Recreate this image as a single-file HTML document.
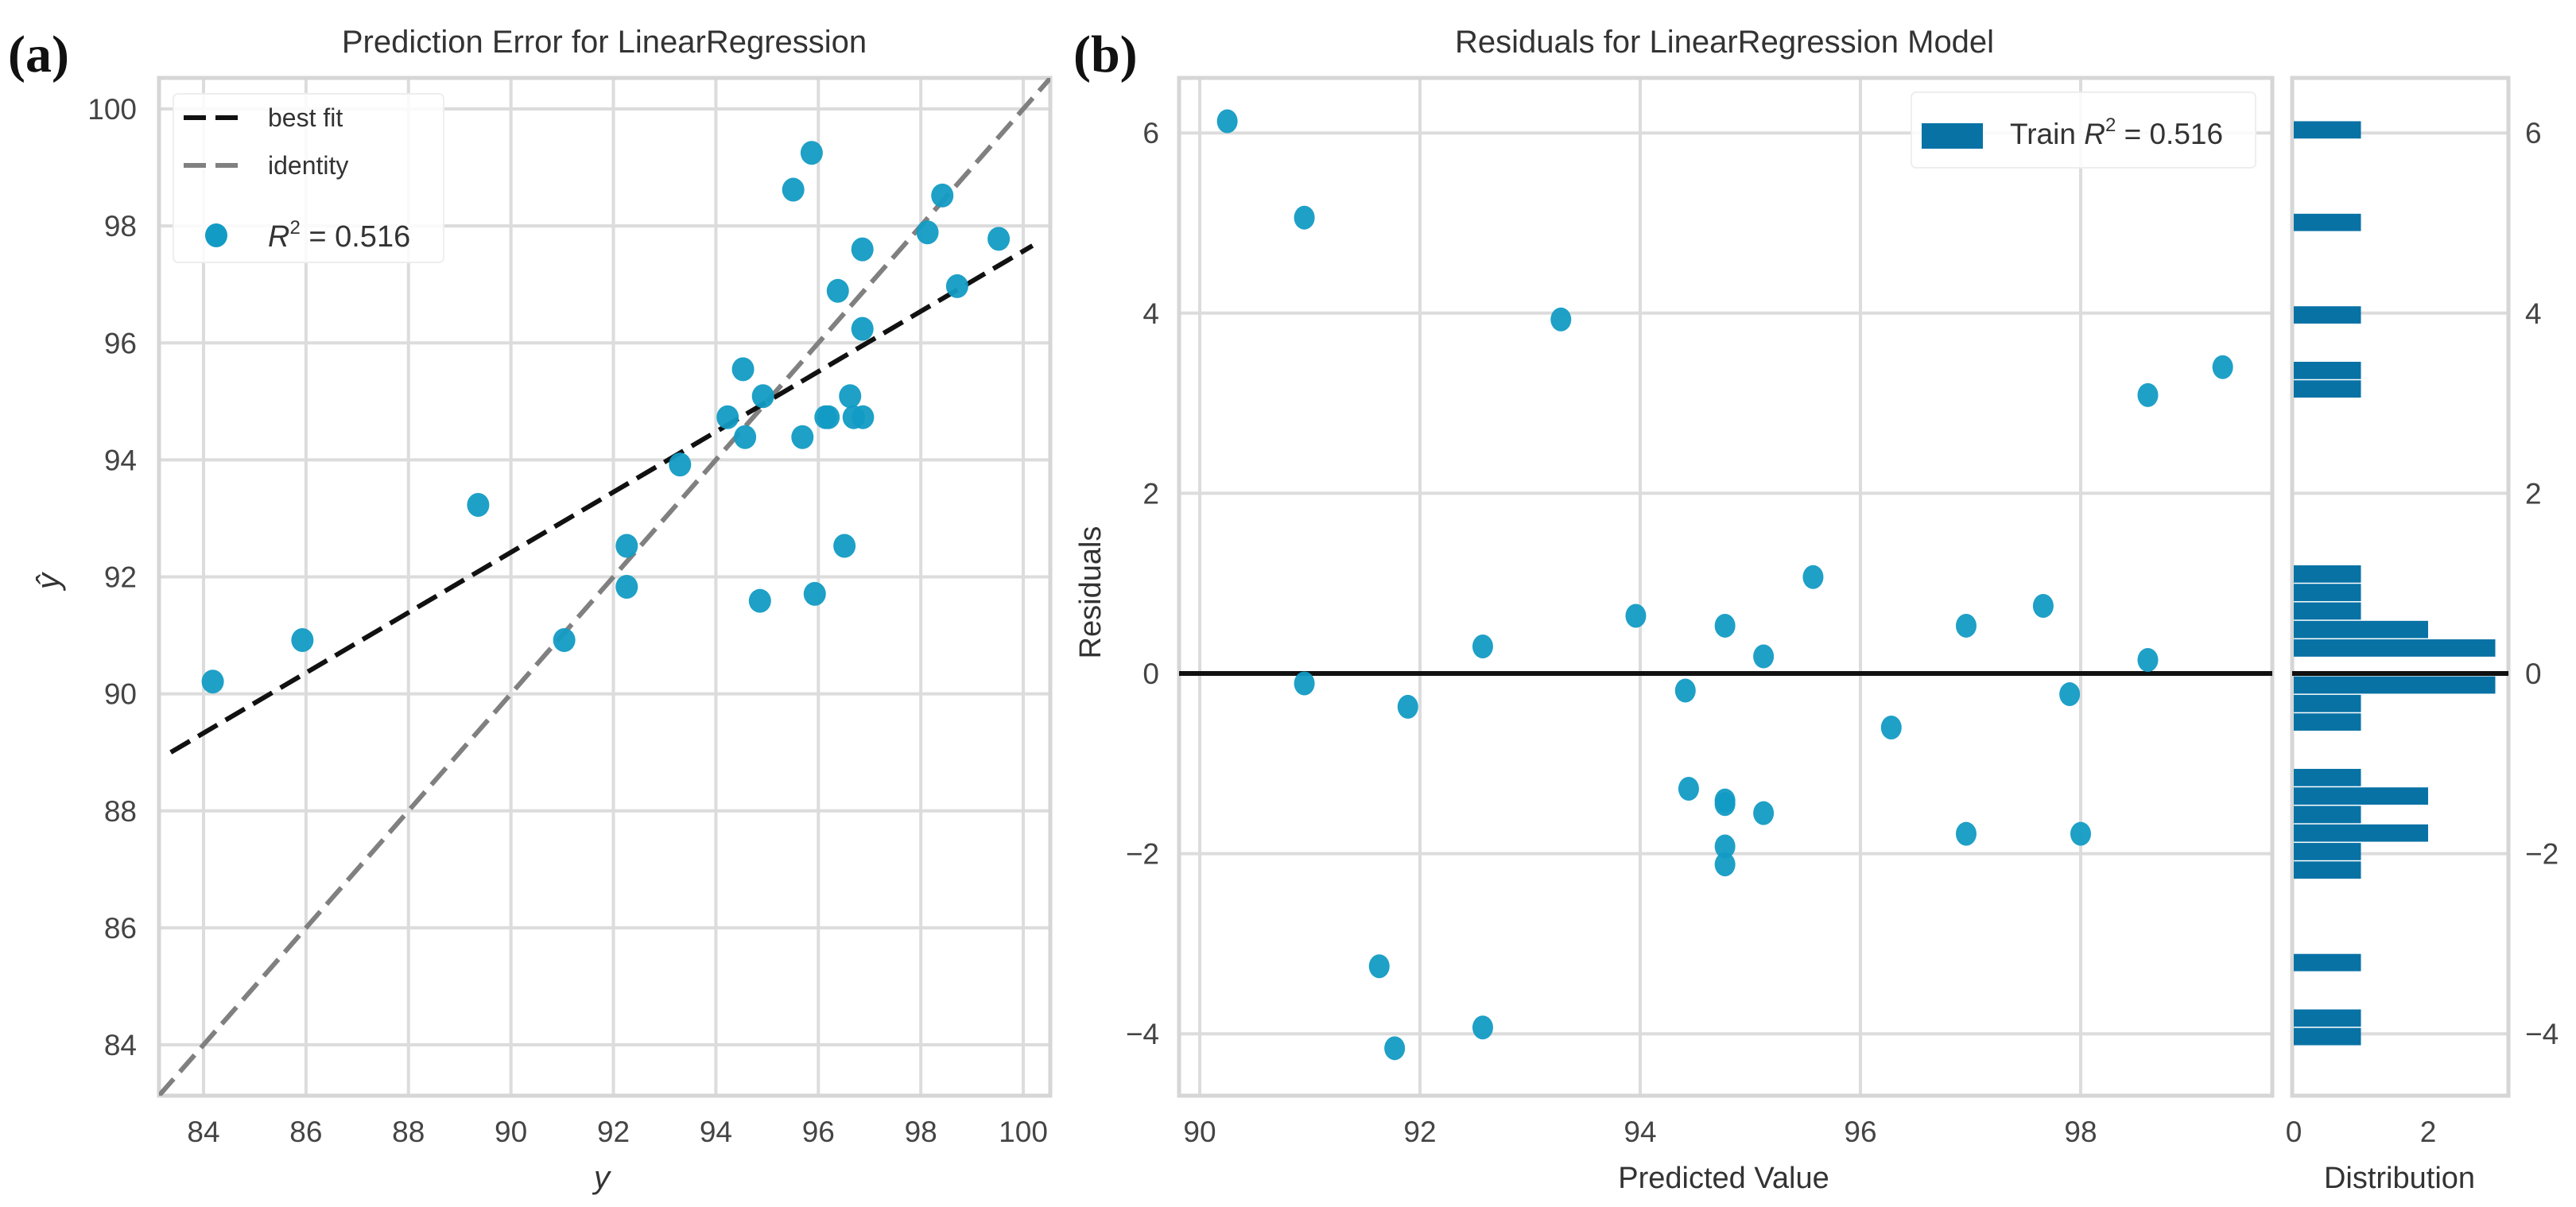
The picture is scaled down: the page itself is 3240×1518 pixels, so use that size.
<!DOCTYPE html>
<html><head><meta charset="utf-8"><style>
html,body{margin:0;padding:0;background:#fff;}
svg{display:block;}
text{font-family:"Liberation Sans",sans-serif;}
text.serif{font-family:"Liberation Serif",serif;}
</style></head><body>
<svg id="fig" width="3240" height="1518" viewBox="0 0 3240 1518" xmlns="http://www.w3.org/2000/svg"></svg>
<script>
// ---- Panel (a) data: actual y vs predicted y-hat ----
const actualY = [84.18,85.93,89.36,91.04,92.26,92.26,93.30,94.23,94.53,94.57,94.92,94.86,95.51,95.87,95.69,95.93,96.14,96.20,96.38,96.51,96.62,96.69,96.87,96.86,96.86,98.13,98.42,98.71,99.52];
const predY   = [90.21,90.92,93.23,90.92,92.53,91.83,93.92,94.73,95.55,94.39,95.09,91.59,98.62,99.25,94.39,91.71,94.73,94.73,96.89,92.53,95.09,94.73,94.73,97.60,96.24,97.89,98.52,96.97,97.78];
const bestFitSlope = 0.515;
const bestFitIntercept = 46.07;
const aTicks = [84,86,88,90,92,94,96,98,100];
// ---- Panel (b) data: predicted vs residuals ----
const residPred = [90.25,90.95,93.28,98.61,99.29,90.95,91.89,92.57,93.96,94.77,95.12,95.57,94.41,96.28,96.96,97.66,97.90,98.61,94.44,94.77,94.77,95.12,94.77,94.77,96.96,98.00,91.63,91.77,92.57];
const residVal  = [6.13,5.06,3.93,3.09,3.40,-0.11,-0.37,0.30,0.64,0.53,0.19,1.07,-0.19,-0.60,0.53,0.75,-0.23,0.15,-1.28,-1.41,-1.45,-1.55,-1.92,-2.12,-1.78,-1.78,-3.25,-4.16,-3.93];
const bXTicks = [90,92,94,96,98];
const bYTicks = [-4,-2,0,2,4,6];
// histogram: 50 bins starting at histMin with width histBinW
const histMin = -4.14;
const histBinW = 0.2054;
const histCounts = [1,1,0,0,1,0,0,0,0,1,1,2,1,2,1,0,0,1,1,3,0,3,2,1,1,1,0,0,0,0,0,0,0,0,0,1,1,0,0,1,0,0,0,0,1,0,0,0,0,1];
const histTicks = [0,2];

const NS='http://www.w3.org/2000/svg';
const svg=document.getElementById('fig');
function el(tag,attrs,parent){const e=document.createElementNS(NS,tag);for(const k in attrs)e.setAttribute(k,attrs[k]);(parent||svg).appendChild(e);return e;}
function txt(x,y,s,attrs,parent){const t=el('text',Object.assign({x:x,y:y},attrs),parent);t.textContent=s;return t;}
const DOT='#129bc4', GRID='#dcdcdc', BAR='#0872a5', TICK='#444';

// ===== Panel (a) =====
const A={l:200,r:1321,t:98,b:1378};
const ax=v=>256+(v-84)*64.44;
const ay=v=>1314-(v-84)*73.56;
const ga=el('g',{});  
const pl=txt(10,90,'(a)',{'class':'serif','style':'font-family:"Liberation Serif",serif','font-weight':'bold','font-size':66,fill:'#111'},ga);
 
const ta=txt(760,66,'Prediction Error for LinearRegression',{'font-size':40,fill:'#333','text-anchor':'middle'},ga);
 
aTicks.forEach(v=>{
  const gx=el('line',{x1:ax(v),x2:ax(v),y1:A.t,y2:A.b,stroke:GRID,'stroke-width':4},ga);
   
  const gy=el('line',{x1:A.l,x2:A.r,y1:ay(v),y2:ay(v),stroke:GRID,'stroke-width':4},ga);
   
  const tx=txt(ax(v),1436,String(v),{'font-size':37,fill:TICK,'text-anchor':'middle'},ga);
   
  const ty=txt(172,ay(v)+13,String(v),{'font-size':37,fill:TICK,'text-anchor':'end'},ga);
   
});
const fa=el('rect',{x:A.l,y:A.t,width:A.r-A.l,height:A.b-A.t,fill:'none',stroke:'#d6d6d6','stroke-width':5},ga);
 
const clipA=el('clipPath',{id:'clipA'},ga); el('rect',{x:A.l,y:A.t,width:A.r-A.l,height:A.b-A.t},clipA);
const ca=el('g',{'clip-path':'url(#clipA)'},ga);
const x0=83.13,x1=100.53;
const idl=el('line',{x1:ax(x0),y1:ay(x0),x2:ax(x1),y2:ay(x1),stroke:'#808080','stroke-width':6,'stroke-dasharray':'28,12'},ca);
 
const bx0=83.36,bx1=100.18;
const bf=el('line',{x1:ax(bx0),y1:ay(bestFitIntercept+bestFitSlope*bx0),x2:ax(bx1),y2:ay(bestFitIntercept+bestFitSlope*bx1),stroke:'#111','stroke-width':6,'stroke-dasharray':'28,12'},ca);
 
actualY.forEach((v,i)=>{
  const c=el('ellipse',{cx:ax(v),cy:ay(predY[i]),rx:14,ry:15,fill:DOT,'fill-opacity':0.95},ca);
   
});
// legend a
const lg=el('g',{},ga);  
el('rect',{x:218,y:118,width:340,height:212,rx:6,fill:'#fff','fill-opacity':0.85,stroke:'#eee','stroke-width':2},lg);
el('line',{x1:231,x2:299,y1:148,y2:148,stroke:'#111','stroke-width':6,'stroke-dasharray':'28,12'},lg);
const l1=txt(337,159,'best fit',{'font-size':32,fill:'#333'},lg);  
el('line',{x1:231,x2:299,y1:208,y2:208,stroke:'#808080','stroke-width':6,'stroke-dasharray':'28,12'},lg);
const l2=txt(337,219,'identity',{'font-size':32,fill:'#333'},lg);  
el('ellipse',{cx:272,cy:296,rx:14,ry:15,fill:DOT},lg);
const l3=el('text',{x:337,y:310,'font-size':38,fill:'#333'},lg);
l3.innerHTML='<tspan font-style="italic">R</tspan><tspan font-size="24" dy="-16">2</tspan><tspan dy="16"> = 0.516</tspan>';
 
const xla=txt(757,1494,'y',{'font-size':40,fill:'#333','font-style':'italic','text-anchor':'middle'},ga);
 
const yla=txt(0,0,'ŷ',{'font-size':40,fill:'#333','font-style':'italic','text-anchor':'middle',transform:'translate(74,731) rotate(-90)'},ga);
 

// ===== Panel (b) =====
const B={l:1483,r:2858,t:98,b:1378};
const bxs=v=>1509+(v-90)*138.5;
const bys=v=>847-v*113.3;
const gb=el('g',{});  
const plb=txt(1350,90,'(b)',{'class':'serif','style':'font-family:"Liberation Serif",serif','font-weight':'bold','font-size':66,fill:'#111'},gb);
 
const tb=txt(2169,66,'Residuals for LinearRegression Model',{'font-size':40,fill:'#333','text-anchor':'middle'},gb);
 
bXTicks.forEach(v=>{
  const g1=el('line',{x1:bxs(v),x2:bxs(v),y1:B.t,y2:B.b,stroke:GRID,'stroke-width':4},gb);
   
  const t1=txt(bxs(v),1436,String(v),{'font-size':37,fill:TICK,'text-anchor':'middle'},gb);
   
});
const H={l:2883,r:3155};
const hx=c=>2885+c*84.5;
bYTicks.forEach(v=>{
  const g1=el('line',{x1:B.l,x2:B.r,y1:bys(v),y2:bys(v),stroke:GRID,'stroke-width':4},gb);
   
  const g2=el('line',{x1:H.l,x2:H.r,y1:bys(v),y2:bys(v),stroke:GRID,'stroke-width':4},gb);
   
  const lab=(v<0?'\u2212':'')+Math.abs(v);
  const t1=txt(1458,bys(v)+13,lab,{'font-size':37,fill:TICK,'text-anchor':'end'},gb);
   
  const t2=txt(3176,bys(v)+13,lab,{'font-size':37,fill:TICK},gb);
   
});
const fb=el('rect',{x:B.l,y:B.t,width:B.r-B.l,height:B.b-B.t,fill:'none',stroke:'#d6d6d6','stroke-width':5},gb);
 
const fh=el('rect',{x:H.l,y:B.t,width:H.r-H.l,height:B.b-B.t,fill:'none',stroke:'#d6d6d6','stroke-width':5},gb);
 
histCounts.forEach((c,i)=>{
  if(!c) return;
  const lo=histMin+i*histBinW, hi=lo+histBinW;
  const r=el('rect',{x:hx(0),y:bys(hi),width:hx(c)-hx(0),height:bys(lo)-bys(hi)-1.5,fill:BAR},gb);
   
});
const zl=el('line',{x1:B.l,x2:B.r,y1:bys(0),y2:bys(0),stroke:'#111','stroke-width':6},gb);
 
const zl2=el('line',{x1:H.l,x2:H.r,y1:bys(0),y2:bys(0),stroke:'#111','stroke-width':6},gb);
 
residPred.forEach((v,i)=>{
  const c=el('ellipse',{cx:bxs(v),cy:bys(residVal[i]),rx:13,ry:15,fill:DOT,'fill-opacity':0.95},gb);
   
});
histTicks.forEach(v=>{
  const t=txt(hx(v),1436,String(v),{'font-size':37,fill:TICK,'text-anchor':'middle'},gb);
   
});
// legend b
const lgb=el('g',{},gb);  
el('rect',{x:2404,y:116,width:433,height:95,rx:6,fill:'#fff','fill-opacity':0.85,stroke:'#eee','stroke-width':2},lgb);
el('rect',{x:2417,y:155,width:77,height:32,fill:BAR},lgb);
const lb=el('text',{x:2528,y:181,'font-size':37,fill:'#333'},lgb);
lb.innerHTML='Train <tspan font-style="italic">R</tspan><tspan font-size="24" dy="-16">2</tspan><tspan dy="16"> = 0.516</tspan>';
 
const xlb=txt(2168,1494,'Predicted Value',{'font-size':38,fill:'#333','text-anchor':'middle'},gb);
 
const ylb=txt(0,0,'Residuals',{'font-size':38,fill:'#333','text-anchor':'middle',transform:'translate(1384,745) rotate(-90)'},gb);
 
const xlh=txt(3018,1494,'Distribution',{'font-size':38,fill:'#333','text-anchor':'middle'},gb);
 
</script>
</body></html>
